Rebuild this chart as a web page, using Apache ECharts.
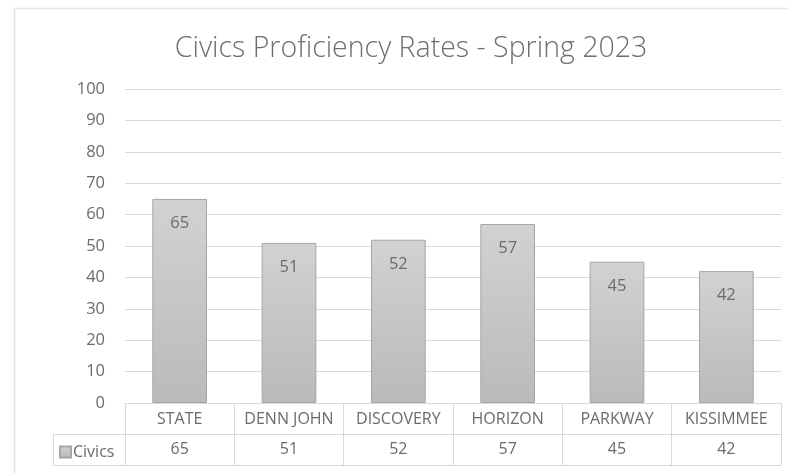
<!DOCTYPE html>
<html>
<head>
<meta charset="utf-8">
<script src="https://cdn.jsdelivr.net/npm/echarts@6/dist/echarts.min.js"></script>
<style>
  html, body { margin: 0; padding: 0; background: #fff; }
  #chart { width: 788px; height: 473px; }
</style>
</head>
<body>
<div id="chart"></div>
<script>
const schools = ["STATE", "DENN JOHN", "DISCOVERY", "HORIZON", "PARKWAY", "KISSIMMEE"];
const civics = [65, 51, 52, 57, 45, 42];
const yTicks = [0, 10, 20, 30, 40, 50, 60, 70, 80, 90, 100];

const font = "Open Sans";
const textColor = "#6b6b6b";
const lineColor = "#d9d9d9";

const chart = echarts.init(document.getElementById("chart"));
chart.setOption({
  animation: false,
  backgroundColor: "#fff",
  title: {
    text: "Civics Proficiency Rates - Spring 2023",
    left: 406,
    textAlign: "center",
    top: 29,
    textStyle: { fontFamily: font, fontSize: 28.5, fontWeight: 300, color: "#6e6e6e" }
  },
  legend: {
    data: ["Civics"],
    left: 54,
    top: 439,
    icon: "rect",
    itemWidth: 11,
    itemHeight: 11,
    itemGap: 2,
    textStyle: { fontFamily: font, fontSize: 16, color: textColor, padding: [0, 0, 0, -3] }
  },
  grid: { left: 125, right: 7, top: 89, bottom: 70 },
  xAxis: [
    {
      type: "category",
      data: schools,
      axisLine: { lineStyle: { color: lineColor } },
      axisTick: { show: true, interval: 0, length: 62, lineStyle: { color: lineColor } },
      axisLabel: { interval: 0, hideOverlap: false, fontFamily: font, fontSize: 16, color: textColor, margin: 8 }
    },
    {
      type: "category",
      data: civics.map(String),
      position: "bottom",
      offset: 31,
      axisLine: { lineStyle: { color: lineColor } },
      axisTick: { show: false },
      axisLabel: { interval: 0, fontFamily: font, fontSize: 16, color: textColor, margin: 7 }
    },
    {
      type: "category",
      data: schools,
      position: "bottom",
      offset: 62,
      axisLine: { lineStyle: { color: lineColor } },
      axisTick: { show: false },
      axisLabel: { show: false }
    }
  ],
  yAxis: {
    type: "value",
    min: yTicks[0],
    max: yTicks[yTicks.length - 1],
    interval: 10,
    axisLine: { show: false },
    axisTick: { show: false },
    axisLabel: { fontFamily: font, fontSize: 16.5, color: textColor, margin: 20 },
    splitLine: { lineStyle: { color: lineColor } }
  },
  graphic: [
    {
      type: "rect",
      shape: { x: 53.5, y: 434.5, width: 72, height: 31 },
      style: { fill: "none", stroke: lineColor, lineWidth: 1 },
      z: 1
    },
    {
      type: "rect",
      shape: { x: 14.5, y: 8.5, width: 800, height: 500 },
      style: { fill: "none", stroke: "#e4e4e4", lineWidth: 1.5 },
      z: 0
    }
  ],
  series: [
    {
      name: "Civics",
      type: "bar",
      data: civics,
      barWidth: "50%",
      itemStyle: {
        color: new echarts.graphic.LinearGradient(0, 0, 0, 1, [
          { offset: 0, color: "#d2d2d2" },
          { offset: 1, color: "#bababa" }
        ]),
        borderColor: "#a5a5a5",
        borderWidth: 1
      },
      label: {
        show: true,
        position: "insideTop",
        distance: 16,
        fontFamily: font,
        fontSize: 16.5,
        color: textColor
      }
    }
  ]
});
</script>
</body>
</html>
